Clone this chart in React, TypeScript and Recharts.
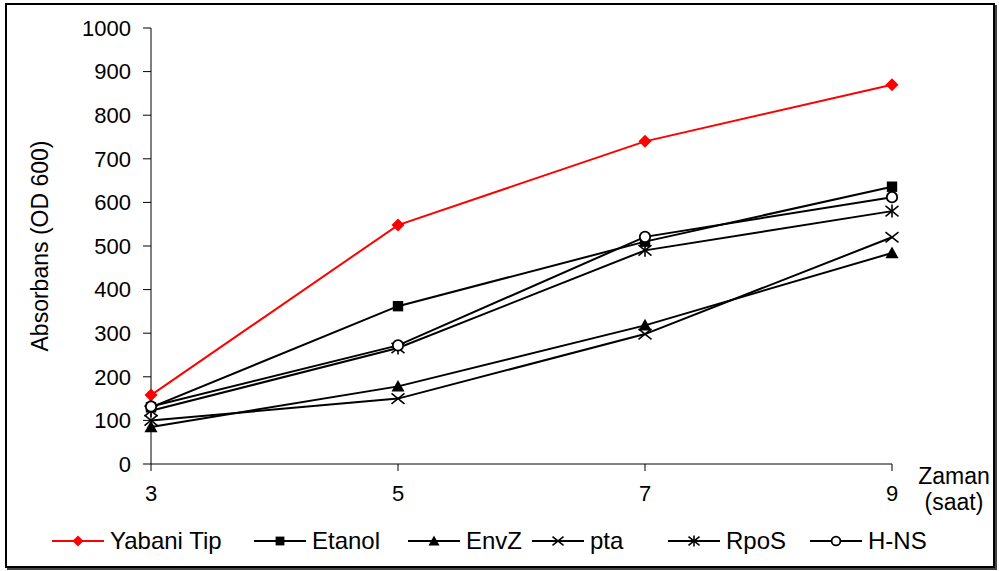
import React from 'react';
import { LineChart, Line, XAxis, YAxis, Label } from 'recharts';

const hours = [3, 5, 7, 9];
const yabaniTip = [158, 548, 740, 870];
const etanol = [130, 362, 510, 636];
const envZ = [85, 178, 318, 484];
const pta = [100, 150, 298, 520];
const rpoS = [122, 266, 490, 580];
const hNS = [132, 272, 521, 612];
const yTicks = [0, 100, 200, 300, 400, 500, 600, 700, 800, 900, 1000];

type Shape = 'diamond' | 'square' | 'triangle' | 'x' | 'star' | 'circle';

const seriesList: { key: string; name: string; values: number[]; color: string; shape: Shape }[] = [
    { key: 'yabani', name: 'Yabani Tip', values: yabaniTip, color: '#ff0000', shape: 'diamond' },
    { key: 'etanol', name: 'Etanol', values: etanol, color: '#000000', shape: 'square' },
    { key: 'envz', name: 'EnvZ', values: envZ, color: '#000000', shape: 'triangle' },
    { key: 'pta', name: 'pta', values: pta, color: '#000000', shape: 'x' },
    { key: 'rpos', name: 'RpoS', values: rpoS, color: '#000000', shape: 'star' },
    { key: 'hns', name: 'H-NS', values: hNS, color: '#000000', shape: 'circle' },
];

// left edge of each legend entry (px)
const legendLeft = [52, 254, 408, 532, 668, 810];

const data = hours.map((h, i) => {
    const row: Record<string, number> = { hour: h };
    seriesList.forEach((s) => {
        row[s.key] = s.values[i];
    });
    return row;
});

const FONT = '"Liberation Sans", Arial, sans-serif';

// marker glyph centered on (cx, cy)
function marker(shape: Shape, color: string, cx: number, cy: number, s: number) {
    switch (shape) {
        case 'diamond':
            return <polygon points={`${cx},${cy - s} ${cx + s},${cy} ${cx},${cy + s} ${cx - s},${cy}`} fill={color} />;
        case 'square':
            return <rect x={cx - s * 0.8} y={cy - s * 0.8} width={s * 1.6} height={s * 1.6} fill={color} />;
        case 'triangle':
            return <polygon points={`${cx},${cy - s} ${cx + s},${cy + s * 0.8} ${cx - s},${cy + s * 0.8}`} fill={color} />;
        case 'x':
            return (
                <g stroke={color} strokeWidth={1.6}>
                    <line x1={cx - s} y1={cy - s * 0.8} x2={cx + s} y2={cy + s * 0.8} />
                    <line x1={cx - s} y1={cy + s * 0.8} x2={cx + s} y2={cy - s * 0.8} />
                </g>
            );
        case 'star':
            return (
                <g stroke={color} strokeWidth={1.6}>
                    <line x1={cx - s} y1={cy - s * 0.8} x2={cx + s} y2={cy + s * 0.8} />
                    <line x1={cx - s} y1={cy + s * 0.8} x2={cx + s} y2={cy - s * 0.8} />
                    <line x1={cx} y1={cy - s} x2={cx} y2={cy + s} />
                </g>
            );
        case 'circle':
            return <circle cx={cx} cy={cy} r={s * 0.8} fill="#fff" stroke={color} strokeWidth={1.8} />;
    }
}

const makeDot = (shape: Shape, color: string) => (props: any) => {
    const { cx, cy, key } = props;
    if (cx == null || cy == null) return <g key={key} />;
    return <g key={key}>{marker(shape, color, cx, cy, 6.5)}</g>;
};

export default function App() {
    return (
        <div style={{ position: 'absolute', left: 0, top: 0, width: 999, height: 571, background: '#fff', fontFamily: FONT }}>
            <div
                style={{
                    position: 'absolute',
                    left: 5,
                    top: 3,
                    width: 986,
                    height: 561,
                    border: '2px solid #000',
                    boxShadow: '2px 2px 0 #444',
                }}
            />
            <LineChart
                width={999}
                height={571}
                data={data}
                margin={{ top: 28, right: 107, left: 0, bottom: 0 }}
                style={{ position: 'absolute', left: 0, top: 0 }}
            >
                <XAxis
                    dataKey="hour"
                    type="number"
                    domain={[3, 9]}
                    ticks={hours}
                    height={107}
                    tickSize={7}
                    tickMargin={14}
                    stroke="#000"
                    tick={{ fill: '#000', fontSize: 22, fontFamily: FONT }}
                />
                <YAxis
                    domain={[0, 1000]}
                    ticks={yTicks}
                    width={151}
                    tickSize={8}
                    tickMargin={12}
                    stroke="#000"
                    interval={0}
                    tick={{ fill: '#000', fontSize: 22, fontFamily: FONT }}
                >
                    <Label
                        value="Absorbans (OD 600)"
                        angle={-90}
                        position="insideLeft"
                        offset={40}
                        style={{ textAnchor: 'middle', fill: '#000', fontSize: 23, fontFamily: FONT }}
                    />
                </YAxis>
                {seriesList.map((s) => (
                    <Line
                        key={s.key}
                        dataKey={s.key}
                        name={s.name}
                        stroke={s.color}
                        strokeWidth={2}
                        dot={makeDot(s.shape, s.color)}
                        activeDot={false}
                        isAnimationActive={false}
                    />
                ))}
            </LineChart>
            <div
                style={{
                    position: 'absolute',
                    left: 910,
                    top: 463,
                    width: 88,
                    textAlign: 'center',
                    fontSize: 23,
                    lineHeight: '26px',
                    color: '#000',
                }}
            >
                Zaman
                <br />
                (saat)
            </div>
            {seriesList.map((s, i) => (
                <div
                    key={s.key}
                    style={{
                        position: 'absolute',
                        left: legendLeft[i],
                        top: 527,
                        height: 28,
                        display: 'flex',
                        alignItems: 'center',
                        fontSize: 24,
                        color: '#000',
                        whiteSpace: 'nowrap',
                    }}
                >
                    <svg width={52} height={20} style={{ marginRight: 6 }}>
                        <line x1={0} y1={10} x2={52} y2={10} stroke={s.color} strokeWidth={2} />
                        {marker(s.shape, s.color, 26, 10, 5.5)}
                    </svg>
                    <span>{s.name}</span>
                </div>
            ))}
        </div>
    );
}
